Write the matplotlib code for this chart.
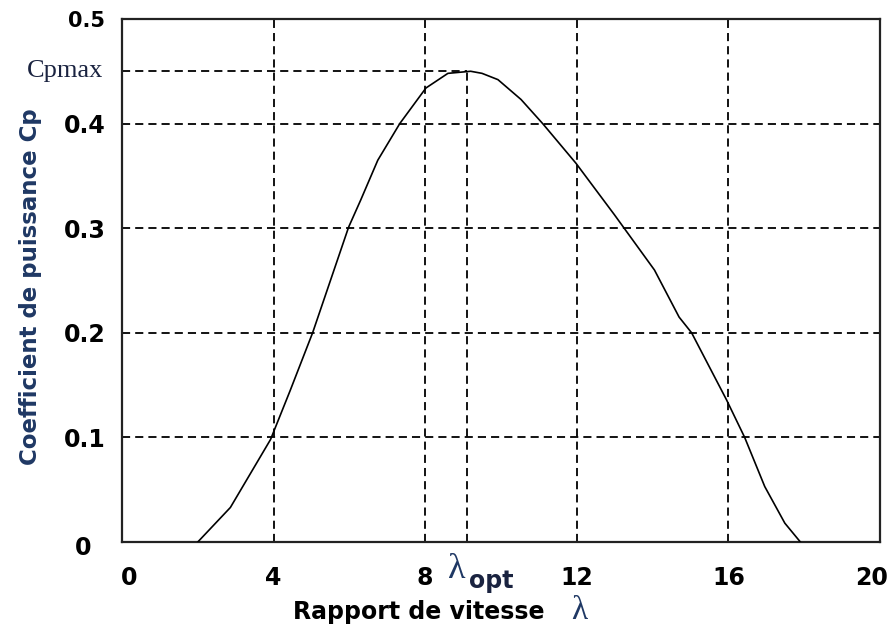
import matplotlib
matplotlib.use("Agg")
import matplotlib.pyplot as plt
from matplotlib.transforms import offset_copy

# Cp(lambda) curve
lam = [2.0, 2.86, 3.92, 4.44, 5.03, 5.98, 6.3, 6.75, 7.33, 8.02, 8.6, 9.2,
       9.5, 9.92, 10.53, 11.1, 11.98, 12.99, 14.05, 14.7, 15.03, 15.95,
       16.43, 16.96, 17.49, 17.9]
cp = [0.0, 0.033, 0.098, 0.145, 0.2, 0.301, 0.327, 0.365, 0.40, 0.434,
      0.448, 0.450, 0.448, 0.442, 0.423, 0.40, 0.362, 0.313, 0.26, 0.215,
      0.2, 0.136, 0.10, 0.053, 0.018, 0.0]

x_ticks = [0, 4, 8, 12, 16, 20]
y_ticks = [0, 0.1, 0.2, 0.3, 0.4, 0.5]
y_tick_labels = ["0", "0.1", "0.2", "0.3", "0.4", "0.5"]
x_grid = [4, 8, 12, 16]
y_grid = [0.1, 0.2, 0.3, 0.4]
lam_opt = 9.1
cp_max = 0.45

navy = "#1f3864"
dark = "#1a2340"
dash = (0, (4.5, 2.8))

fig = plt.figure(figsize=(8.93, 6.32), dpi=100)
ax = fig.add_axes([0.1366, 0.1424, 0.8488, 0.8276])

for xv in x_grid:
    ax.axvline(xv, color="black", lw=1.3, linestyle=dash, zorder=1)
for yv in y_grid:
    ax.axhline(yv, color="black", lw=1.3, linestyle=dash, zorder=1)

# crosshair to the optimum
ax.plot([0, lam_opt], [cp_max, cp_max], color="black", lw=1.3, linestyle=dash, zorder=1)
ax.plot([lam_opt, lam_opt], [0, cp_max], color="black", lw=1.3, linestyle=dash, zorder=1)

ax.plot(lam, cp, color="black", lw=1.2, zorder=3)

ax.set_xlim(0, 20)
ax.set_ylim(0, 0.5)
ax.set_xticks(x_ticks)
ax.set_xticklabels([str(v) for v in x_ticks])
ax.set_yticks(y_ticks)
ax.set_yticklabels(y_tick_labels)
ax.tick_params(axis="both", length=0)
ax.tick_params(axis="x", pad=17, labelsize=17)
ax.tick_params(axis="y", pad=12, labelsize=17)
for t in ax.get_xticklabels() + ax.get_yticklabels():
    t.set_fontweight("bold")
    t.set_family("DejaVu Sans")
ax.get_yticklabels()[-1].set_fontsize(15)

# the hand-placed end labels of the reference
xl = ax.get_xticklabels()
xl[0].set_transform(offset_copy(xl[0].get_transform(), fig=fig, x=7, y=0, units="dots"))
xl[-1].set_transform(offset_copy(xl[-1].get_transform(), fig=fig, x=-8, y=0, units="dots"))
yl = ax.get_yticklabels()
yl[0].set_transform(offset_copy(yl[0].get_transform(), fig=fig, x=-14, y=-3, units="dots"))

for s in ax.spines.values():
    s.set_linewidth(1.6)
    s.set_color("#222222")

ax.text(-0.5, cp_max, "Cpmax", ha="right", va="center", fontsize=19,
        family="Liberation Serif", color=dark, clip_on=False)

# lambda_opt label under the axis
ax.text(8.6, -0.0344, "λ", ha="left", va="baseline", fontsize=26,
        family="Liberation Serif", color=navy, clip_on=False)
ax.text(9.15, -0.044, "opt", ha="left", va="baseline", fontsize=17, fontweight="bold",
        family="DejaVu Sans", color=dark, clip_on=False)

fig.text(0.469, 0.031, "Rapport de vitesse", ha="center", va="center",
         fontsize=17, fontweight="bold", family="DejaVu Sans", color="black")
fig.text(0.649, 0.034, "λ", ha="center", va="center", fontsize=24,
         family="Liberation Serif", color=navy)

fig.text(0.034, 0.547, "Coefficient de puissance Cp", rotation=90,
         ha="center", va="center", fontsize=16.5, fontweight="bold",
         family="DejaVu Sans", color=navy)

fig.savefig("out.png", dpi=100)
